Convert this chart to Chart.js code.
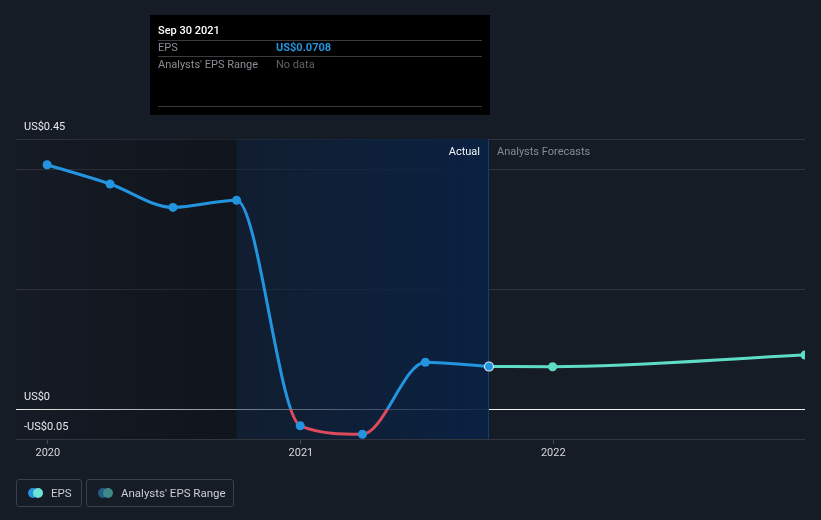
<!DOCTYPE html>
<html>
<head>
<meta charset="utf-8">
<script src="https://cdn.jsdelivr.net/npm/chart.js@4/dist/chart.umd.min.js"></script>
<style>
  html,body{margin:0;padding:0;background:#161c26;}
  #wrap{position:relative;width:821px;height:520px;}
  canvas{position:absolute;left:0;top:0;}
  .leg{position:absolute;top:479px;height:28px;border:1px solid #3a414c;border-radius:3px;box-sizing:border-box;
       font:11.5px Roboto, sans-serif;color:#c9cdd2;display:flex;align-items:center;white-space:nowrap;}
  .dots{position:relative;flex:0 0 auto;width:15px;height:10px;margin-left:11px;margin-right:8px;}
  .dots span{position:absolute;top:0;width:10px;height:10px;border-radius:50%;}
</style>
</head>
<body>
<div id="wrap">
  <canvas id="c" width="821" height="520"></canvas>
  <div class="leg" style="left:16px;width:66px;">
    <div class="dots"><span style="left:0;background:#2394df"></span><span style="left:5px;background:#6de3d3"></span></div>EPS
  </div>
  <div class="leg" style="left:86px;width:148px;">
    <div class="dots"><span style="left:0;background:#235c86"></span><span style="left:5px;background:#3f8a86"></span></div>Analysts' EPS Range
  </div>
</div>
<script>
// ---- data ----
const actualDates = ['2019-12-31','2020-03-31','2020-06-30','2020-09-30','2020-12-31','2021-03-31','2021-06-30','2021-09-30'];
const actualEPS   = [0.407, 0.375, 0.336, 0.348, -0.028, -0.042, 0.078, 0.0708];
const forecastDates = ['2021-09-30','2021-12-31','2022-12-31'];
const forecastEPS   = [0.0708, 0.0705, 0.090];
const yTickValues = [0.45, 0, -0.05];
const yTickLabels = ['US$0.45', 'US$0', '-US$0.05'];
const yGridValues = [-0.05, 0, 0.2, 0.4, 0.45];
const xTickYears = [2020, 2021, 2022];
const pastEnd = '2020-09-30';
const actualEnd = '2021-09-30';
const tooltipTitle = 'Sep 30 2021';
const tooltipRows = [['EPS','US$0.0708'],["Analysts' EPS Range",'No data']];

const t = s => Date.parse(s + 'T00:00:00Z');
const actualPts = actualDates.map((d,i)=>({x:t(d), y:actualEPS[i]}));
const forecastPts = forecastDates.map((d,i)=>({x:t(d), y:forecastEPS[i]}));
const FONT = 'Roboto, sans-serif';

function lineGradient(ctx){
  const chart = ctx.chart; const ca = chart.chartArea;
  if(!ca) return '#2394df';
  const y = chart.scales.y;
  const z = y.getPixelForValue(0);
  const f = Math.min(1, Math.max(0, (z - ca.top)/(ca.bottom - ca.top)));
  const g = chart.ctx.createLinearGradient(0, ca.top, 0, ca.bottom);
  g.addColorStop(0, '#2394df'); g.addColorStop(f, '#2394df');
  g.addColorStop(f, '#dc4a5b'); g.addColorStop(1, '#dc4a5b');
  return g;
}

const bgPlugin = {
  id:'bg',
  beforeDatasetsDraw(chart){
    const {ctx, chartArea:ca, scales:{x}} = chart;
    const xp = x.getPixelForValue(t(pastEnd));
    const xa = x.getPixelForValue(t(actualEnd));
    ctx.save();
    let g = ctx.createLinearGradient(ca.left,0,xp,0);
    g.addColorStop(0,'rgba(10,12,16,0.05)'); g.addColorStop(1,'rgba(10,12,16,0.45)');
    ctx.fillStyle = g; ctx.fillRect(ca.left, ca.top, xp-ca.left, ca.bottom-ca.top);
    g = ctx.createLinearGradient(xp,0,xa,0);
    g.addColorStop(0,'rgba(14,32,58,0.55)'); g.addColorStop(1,'rgba(10,34,68,0.95)');
    ctx.fillStyle = g; ctx.fillRect(xp, ca.top, xa-xp, ca.bottom-ca.top);
    ctx.fillStyle = 'rgba(40,80,130,0.6)'; ctx.fillRect(xa-1, ca.top, 1, ca.bottom-ca.top);
    ctx.restore();
  }
};

const overlayPlugin = {
  id:'overlay',
  afterDraw(chart){
    const {ctx, chartArea:ca, scales:{x,y}} = chart;
    ctx.save();
    // y labels
    ctx.font = '11px ' + FONT; ctx.fillStyle = '#e8eaec'; ctx.textAlign='left'; ctx.textBaseline='middle';
    yTickValues.forEach((v,i)=>{ ctx.fillText(yTickLabels[i], 24, y.getPixelForValue(v) - 11.5); });
    // Actual / Forecast labels
    const xa = x.getPixelForValue(t(actualEnd));
    ctx.font = '11px ' + FONT;
    ctx.textAlign='right'; ctx.fillStyle='#f2f3f4'; ctx.fillText('Actual', xa - 9, 152);
    ctx.textAlign='left'; ctx.fillStyle='#868b92'; ctx.fillText('Analysts Forecasts', xa + 8, 152);
    // tooltip box
    ctx.fillStyle = '#000000'; ctx.fillRect(150, 15, 340, 100);
    ctx.strokeStyle = '#3a3c40'; ctx.lineWidth = 1;
    [40.5, 56.5, 106.5].forEach(yy=>{ ctx.beginPath(); ctx.moveTo(158, yy); ctx.lineTo(482, yy); ctx.stroke(); });
    ctx.textAlign='left';
    ctx.font = '500 11px ' + FONT; ctx.fillStyle = '#ffffff'; ctx.fillText(tooltipTitle, 158, 31);
    ctx.font = '11px ' + FONT; ctx.fillStyle = '#8a8e93'; ctx.fillText(tooltipRows[0][0], 158, 48);
    ctx.font = 'bold 11px ' + FONT; ctx.fillStyle = '#2394df'; ctx.fillText(tooltipRows[0][1], 276, 48);
    ctx.font = '11px ' + FONT; ctx.fillStyle = '#8a8e93'; ctx.fillText(tooltipRows[1][0], 158, 65);
    ctx.fillStyle = '#5f6368'; ctx.fillText(tooltipRows[1][1], 276, 65);
    ctx.restore();
  }
};

new Chart(document.getElementById('c'), {
  type:'line',
  data:{
    datasets:[
      { data: forecastPts, borderColor:'#5fdcc6', borderWidth:3, pointRadius:[0,4.5,4.5], pointBackgroundColor:'#5fdcc6',
        pointBorderWidth:0, cubicInterpolationMode:'monotone', order:2 },
      { data: actualPts, borderColor: lineGradient, borderWidth:3,
        pointRadius: 4.5,
        pointBackgroundColor:'#2394df',
        pointBorderColor: actualPts.map((p,i)=> i===actualPts.length-1 ? '#dbe9f7' : '#2394df'),
        pointBorderWidth: actualPts.map((p,i)=> i===actualPts.length-1 ? 1.2 : 0),
        cubicInterpolationMode:'monotone', order:1 }
    ]
  },
  options:{
    responsive:false, animation:false,
    layout:{padding:{left:16, right:16, top:139, bottom:61}},
    plugins:{legend:{display:false}, tooltip:{enabled:false}},
    events:[],
    scales:{
      x:{ type:'linear', min: t('2019-11-16'), max: t('2022-12-31'),
          afterBuildTicks: s => { s.ticks = xTickYears.map(yv=>({value: Date.UTC(yv,0,1)})); },
          afterFit: s => { s.height = 20; },
          ticks:{ color:'#d5d8dc', font:{family:FONT,size:11}, padding:3, maxRotation:0,
                  callback: v => String(new Date(v).getUTCFullYear()) },
          grid:{ drawOnChartArea:false, drawTicks:true, tickLength:5, color:'#454a52' },
          border:{ display:false } },
      y:{ min:-0.05, max:0.45,
          afterBuildTicks: s => { s.ticks = yGridValues.map(v=>({value:v})); },
          afterFit: s => { s.width = 0; },
          ticks:{ display:false },
          grid:{ drawTicks:false, color: c => (c.tick && c.tick.value === 0) ? '#f2f2f2' : '#30353e', lineWidth: 1 },
          border:{ display:false } }
    }
  },
  plugins:[bgPlugin, overlayPlugin]
});
</script>
</body>
</html>
